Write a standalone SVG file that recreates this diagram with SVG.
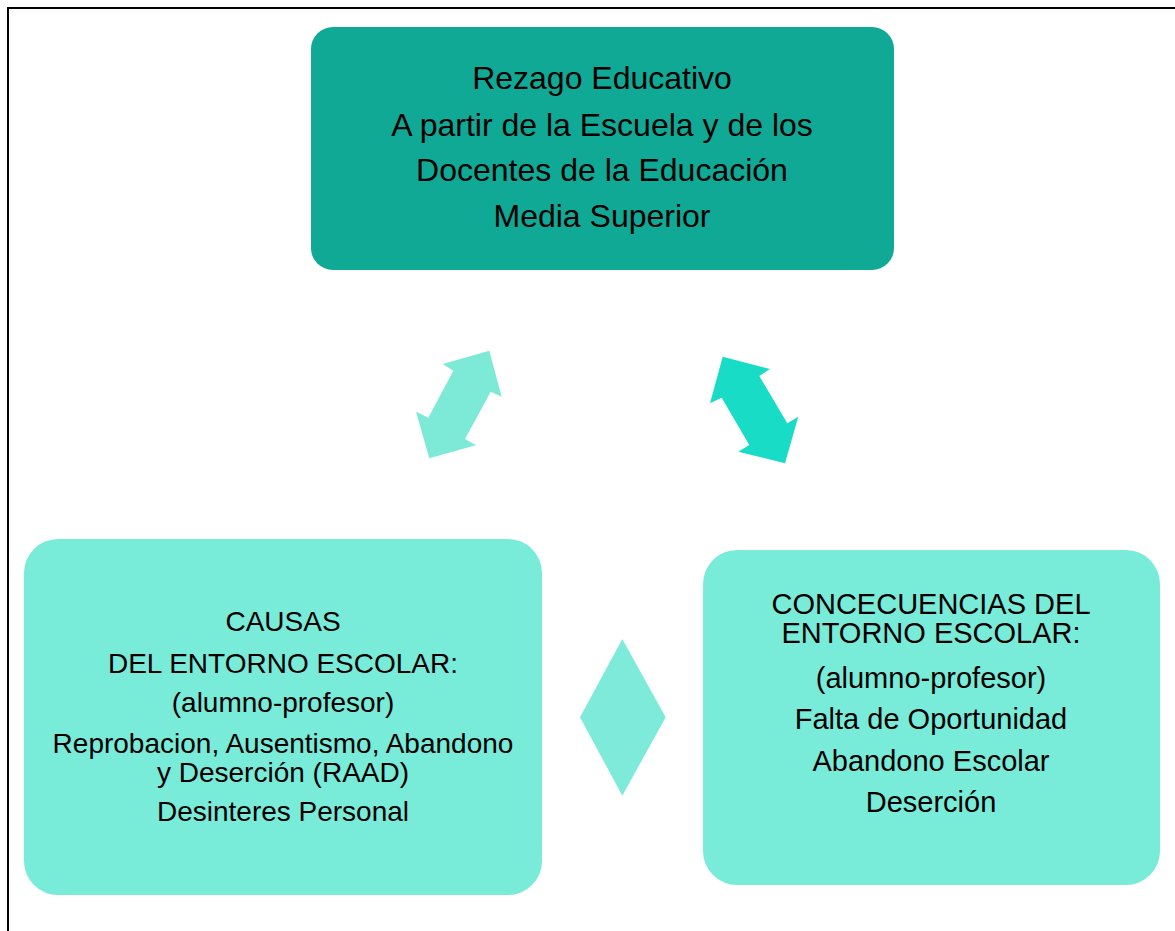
<svg xmlns="http://www.w3.org/2000/svg" width="1175" height="931" viewBox="0 0 1175 931">
<style>
text{font-family:"Liberation Sans",Arial,sans-serif;fill:#000;text-anchor:middle}
.t{font-size:32px}
.l{font-size:28px}
.r{font-size:29px}
.light{fill:#78EBD9}
</style>
<rect width="1175" height="931" fill="#fff"/>
<rect x="8" y="8" width="1200" height="1000" fill="none" stroke="#000" stroke-width="2"/>
<g id="top">
<rect x="311" y="27" width="583" height="243" rx="22" fill="#0FA996"/>
<text class="t" x="602" y="89">Rezago Educativo</text>
<text class="t" x="602" y="136">A partir de la Escuela y de los</text>
<text class="t" x="602" y="181">Docentes de la Educación</text>
<text class="t" x="602" y="227">Media Superior</text>
</g>
<g id="causas">
<rect class="light" x="24" y="539" width="518" height="356" rx="34"/>
<text class="l" x="283" y="631">CAUSAS</text>
<text class="l" x="283" y="673">DEL ENTORNO ESCOLAR:</text>
<text class="l" x="283" y="712">(alumno-profesor)</text>
<text class="l" x="283" y="753">Reprobacion, Ausentismo, Abandono</text>
<text class="l" x="283" y="782">y Deserción (RAAD)</text>
<text class="l" x="283" y="821">Desinteres Personal</text>
</g>
<g id="consecuencias">
<rect class="light" x="703" y="550" width="457" height="335" rx="34"/>
<text class="r" x="931" y="614">CONCECUENCIAS DEL</text>
<text class="r" x="931" y="643">ENTORNO ESCOLAR:</text>
<text class="r" x="931" y="688">(alumno-profesor)</text>
<text class="r" x="931" y="729">Falta de Oportunidad</text>
<text class="r" x="931" y="771">Abandono Escolar</text>
<text class="r" x="931" y="812">Deserción</text>
</g>
<g id="connectors">
<polygon fill="#7DEAD8" points="489.3,350.7 501.7,396.7 490.7,391.7 465,439 476,445.3 429.3,458.3 416,411.7 428.3,417.7 453.3,370.7 442.7,364"/>
<polygon fill="#19DCC6" points="722.7,356.7 770,369 759.3,376 787.3,423.3 798.3,416.7 785,463.3 738.3,451.7 749.3,445 721.7,397.7 710,403.3"/>
<polygon fill="#7EEBDA" points="622.3,639 665.7,717.3 622.3,795.7 580,717.3"/>
</g>
</svg>
